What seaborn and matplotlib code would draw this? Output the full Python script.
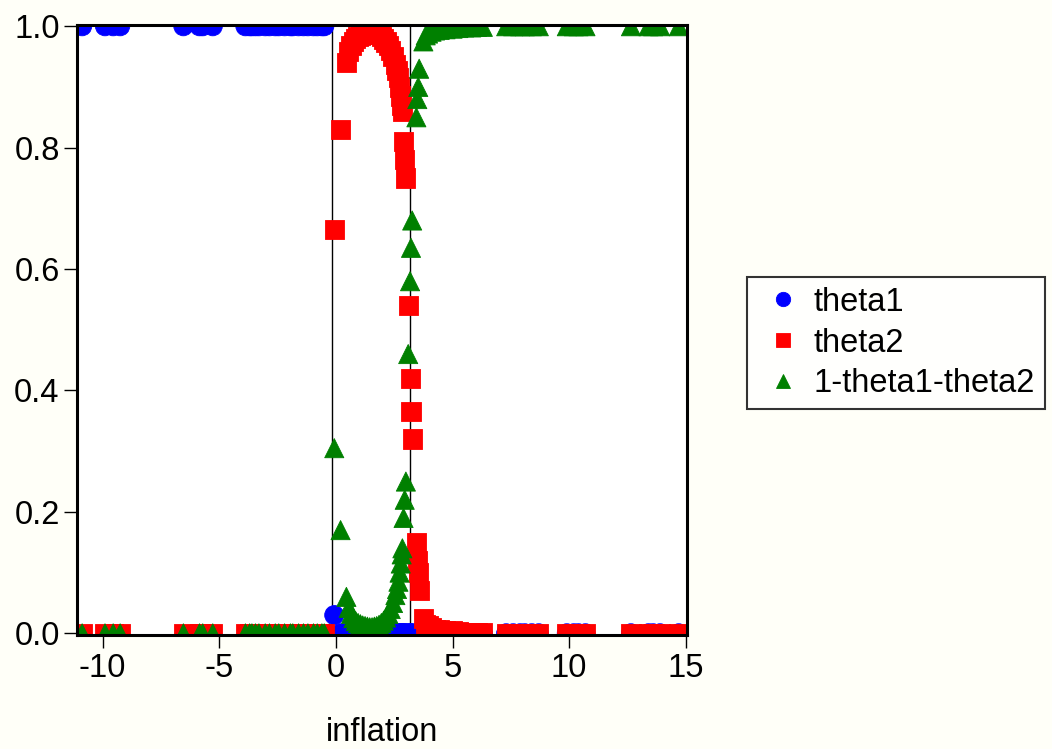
import pandas as pd
import matplotlib.pyplot as plt
import seaborn as sns

# inflation values (x) and the two estimated probabilities
inflation = [-10.88, -9.9, -9.55, -9.25, -6.54, -5.85, -5.71, -5.28,
             -3.88, -3.7, -3.6, -3.45, -3.3, -3.03, -2.85, -2.6, -2.45, -2.2,
             -1.95, -1.85, -1.6, -1.39, -1.2, -0.96, -0.8, -0.6, -0.5,
             -0.07, 0.2, 0.45,
             0.55, 0.65, 0.75, 0.85, 0.95, 1.05, 1.15, 1.25, 1.35, 1.45,
             1.55, 1.65, 1.75, 1.85, 1.95, 2.05, 2.15, 2.25, 2.35, 2.45,
             2.55, 2.62, 2.68, 2.73, 2.78, 2.82, 2.85,
             2.9, 2.95, 3.0, 3.1, 3.18, 3.22, 3.27,
             3.45, 3.49, 3.53, 3.57, 3.75,
             3.85, 3.95, 4.1, 4.25, 4.45, 4.7, 5.0, 5.25, 5.5, 5.8, 6.05, 6.3,
             7.3, 7.6, 7.9, 8.1, 8.4, 8.7, 9.9, 10.2, 10.4, 10.7,
             12.65, 13.4, 13.6, 13.9, 14.7]

theta1 = [1.0] * 27 + [0.03] + [0.0] * 68

theta2 = [0.0] * 27 + [0.665, 0.83, 0.94,
          0.958, 0.968, 0.975, 0.98, 0.983, 0.985, 0.987, 0.988, 0.989, 0.99,
          0.99, 0.989, 0.988, 0.986, 0.983, 0.979, 0.974, 0.968, 0.96, 0.95,
          0.937, 0.927, 0.915, 0.9, 0.885, 0.87, 0.86,
          0.81, 0.78, 0.75, 0.54, 0.42, 0.365, 0.32,
          0.15, 0.12, 0.10, 0.07, 0.025,
          0.015, 0.012, 0.009, 0.007, 0.006, 0.005, 0.004, 0.003, 0.002, 0.002, 0.001, 0.001,
          0.0, 0.0, 0.0, 0.0, 0.0, 0.0, 0.0, 0.0, 0.0, 0.0,
          0.0, 0.0, 0.0, 0.0, 0.0]

theta3 = [1 - a - b for a, b in zip(theta1, theta2)]

# thresholds drawn as vertical lines
thresholds = [-0.15, 3.19]

labels = ["theta1", "theta2", "1-theta1-theta2"]
df = pd.concat([
    pd.DataFrame({"inflation": inflation, "value": vals, "series": lab})
    for lab, vals in zip(labels, [theta1, theta2, theta3])
])

sns.set_style("white")
plt.rcParams['font.family'] = ['Liberation Sans', 'DejaVu Sans']
plt.rcParams['axes.unicode_minus'] = False
plt.rcParams['text.color'] = 'black'
plt.rcParams['xtick.color'] = 'black'
plt.rcParams['ytick.color'] = 'black'
plt.rcParams['axes.labelcolor'] = 'black'

fs = 23.5

fig = plt.figure(figsize=(10.52, 7.49), dpi=100, facecolor='#fffff8')
ax = fig.add_axes([0.0732, 0.152, 0.58, 0.8146])
ax.set_facecolor('white')

for t in thresholds:
    ax.axvline(t, color='black', lw=1.0, zorder=1)

palette = {"theta1": "#0000ff", "theta2": "#ff0000", "1-theta1-theta2": "#008000"}
sns.scatterplot(data=df, x="inflation", y="value", hue="series", style="series",
                palette=palette,
                markers={"theta1": "o", "theta2": "s", "1-theta1-theta2": "^"},
                s=190, linewidth=0.6, edgecolor='face', ax=ax, zorder=2)

ax.set_xlim(-11.1, 15.06)
ax.set_ylim(-0.003, 1.002)
ax.set_xticks([-10, -5, 0, 5, 10, 15])
ax.set_yticks([0.0, 0.2, 0.4, 0.6, 0.8, 1.0])
ax.set_yticklabels(["0.0", "0.2", "0.4", "0.6", "0.8", "1.0"])
ax.tick_params(axis='both', direction='out', length=9.5, width=1, labelsize=fs,
               color='black', labelcolor='black', pad=3, left=True, bottom=True)
ax.set_xlabel("inflation", fontsize=fs, labelpad=24)
ax.set_ylabel("")
for sp in ax.spines.values():
    sp.set_linewidth(2.2)
    sp.set_color('black')

handles, labs = ax.get_legend_handles_labels()
ax.get_legend().remove()
leg = fig.legend(handles, labs, loc='center left', bbox_to_anchor=(0.71, 0.542),
                 fontsize=fs, frameon=True, fancybox=False, edgecolor='black',
                 borderpad=0.3, labelspacing=0.3, handlelength=1.6,
                 handletextpad=0.15, borderaxespad=0, markerscale=0.75)
leg.get_frame().set_linewidth(1.5)

fig.savefig("out.png", dpi=100, facecolor=fig.get_facecolor())
